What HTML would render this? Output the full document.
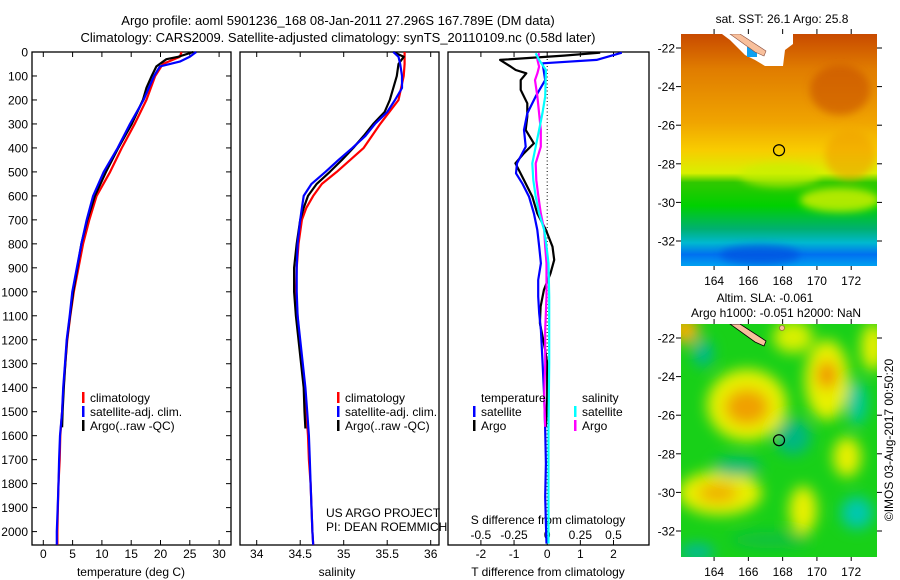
<!DOCTYPE html>
<html><head><meta charset="utf-8">
<style>
body{margin:0;background:#fff;}
svg{display:block;font-family:"Liberation Sans",sans-serif;}
text{font-size:12px;fill:#000;}
</style></head>
<body>
<svg id="fig" width="900" height="580" viewBox="0 0 900 580" xmlns="http://www.w3.org/2000/svg">
<rect width="900" height="580" fill="#fff"/>
<text x="338" y="25" text-anchor="middle" style="font-size:13px">Argo profile: aoml 5901236_168 08-Jan-2011 27.296S 167.789E (DM data)</text>
<text x="338" y="42" text-anchor="middle" style="font-size:13px">Climatology: CARS2009. Satellite-adjusted climatology: synTS_20110109.nc (0.58d later)</text>
<g id="panels"></g>
<g id="maps"></g>
</svg>
<script>
// ---------- DATA ----------
const depthTicks=[0,100,200,300,400,500,600,700,800,900,1000,1100,1200,1300,1400,1500,1600,1700,1800,1900,2000];
const tempTicks=[0,5,10,15,20,25,30];
const salTicks=[34,34.5,35,35.5,36];
const tdiffTicks=[-2,-1,0,1,2];
const sdiffTicks=[-0.5,-0.25,0,0.25,0.5];
const sdiffLabels=["-0.5","-0.25","0","0.25","0.5"];

const tempClimDepth=[0,20,50,100,200,300,400,500,600,700,800,900,1000,1100,1200,1300,1400,1500,1600,1700,1800,1900,2000,2055];
const tempClim=[23.6,23.3,20.4,19.1,17.6,15.6,13.4,11.4,9.1,7.85,6.8,6.0,5.2,4.6,4.1,3.75,3.45,3.2,2.9,2.8,2.6,2.5,2.4,2.4];
const tempSatDepth=[0,20,40,60,100,200,300,400,500,600,700,800,1000,1100,1200,1300,1400,1500,1600,1700,1800,1900,2000,2055];
const tempSat=[26.1,25.0,23.3,19.9,18.9,17.1,14.8,12.7,10.3,8.5,7.4,6.5,4.95,4.5,4.0,3.7,3.4,3.2,2.85,2.7,2.6,2.45,2.3,2.3];
const tempArgoDepth=[0,20,30,60,100,150,200,300,400,500,600,700,800,900,1000,1100,1200,1300,1400,1500,1565];
const tempArgo=[25.6,23.0,21.0,19.3,18.5,17.6,17.0,15.1,12.8,10.7,8.8,7.5,6.5,5.8,5.1,4.55,4.05,3.75,3.5,3.3,3.2];

const salClimDepth=[0,50,100,200,300,400,500,550,600,650,700,800,900,1000,1100,1200,1300,1400,1500,1600,1700,1800,1900,2000,2055];
const salClim=[35.7,35.7,35.69,35.63,35.42,35.23,34.92,34.75,34.65,34.57,34.52,34.48,34.46,34.45,34.47,34.49,34.52,34.55,34.57,34.59,34.6,34.62,34.63,34.64,34.65];
const salSatDepth=[0,20,50,100,150,200,250,300,350,400,450,500,550,600,650,700,800,900,1000,1100,1200,1300,1400,1500,1600,1700,1800,1900,2000,2055];
const salSat=[35.57,35.63,35.65,35.67,35.67,35.59,35.5,35.36,35.25,35.1,34.94,34.79,34.63,34.54,34.52,34.5,34.47,34.46,34.46,34.47,34.5,34.53,34.56,34.58,34.6,34.61,34.62,34.63,34.64,34.65];
const salArgoDepth=[0,20,50,100,150,200,250,300,350,400,450,500,550,600,650,700,800,900,1000,1100,1200,1300,1400,1500,1570];
const salArgo=[35.57,35.69,35.63,35.61,35.57,35.53,35.47,35.34,35.23,35.11,34.98,34.84,34.69,34.59,34.54,34.5,34.46,34.43,34.43,34.45,34.48,34.51,34.54,34.55,34.56];

const tdSatDepth=[3,33,47,117,186,256,325,395,464,506,548,603,673,742,812,881,951,1020,1090,1159,1298,1437,1576,1715,1855,1965,2050];
const tdSat=[2.25,1.49,-0.14,-0.06,-0.35,-0.6,-0.7,-0.65,-0.91,-0.94,-0.75,-0.55,-0.4,-0.3,-0.24,-0.19,-0.27,-0.27,-0.24,-0.19,-0.14,-0.09,-0.06,-0.04,-0.06,-0.04,-0.02];
const tdArgoDepth=[3,15,33,61,75,89,117,158,214,270,325,381,422,464,534,603,673,742,812,867,923,992,1062,1131,1187,1243,1298,1437,1563];
const tdArgo=[1.6,0.5,-1.42,-1.1,-0.95,-0.63,-0.8,-0.8,-0.6,-0.6,-0.65,-0.4,-0.7,-0.96,-0.7,-0.45,-0.3,-0.04,0.16,0.21,0.1,-0.1,-0.2,-0.22,-0.14,-0.06,0.0,0.0,-0.04];
const sdSatDepth=[5,33,75,186,256,325,395,464,534,603,673,742,812,881,1020,1298,1576,2050];
const sdSat=[-0.087,-0.061,-0.01,-0.015,-0.036,-0.061,-0.087,-0.112,-0.105,-0.087,-0.061,-0.023,-0.005,0.01,0.015,0.015,0.01,0.01];
const sdArgoDepth=[5,33,61,89,117,186,256,325,395,464,534,603,673,742,812,881,1020,1159,1298,1437,1563];
const sdArgo=[-0.061,-0.074,-0.061,-0.074,-0.092,-0.074,-0.061,-0.048,-0.048,-0.087,-0.082,-0.066,-0.048,-0.023,-0.015,-0.005,-0.005,-0.015,-0.015,-0.023,-0.015];

const lonTicks=[164,166,168,170,172];
const latTicks=[-22,-24,-26,-28,-30,-32];
const argoLon=167.789, argoLat=-27.296;

// ---------- HELPERS ----------
const NS="http://www.w3.org/2000/svg";
const P=document.getElementById('panels');
function el(tag,attrs,parent){const e=document.createElementNS(NS,tag);for(const k in attrs)e.setAttribute(k,attrs[k]);(parent||P).appendChild(e);return e;}
const top0=52,bot0=545;
const yD=d=>top0+d*0.2398;
function panelFrame(x0,x1,name){
  const r=el('rect',{x:x0,y:top0,width:x1-x0,height:bot0-top0,fill:'none',stroke:'#000','stroke-width':1.3});
  
  
}
function line(xs,ds,xf,color,name,w){
  const pts=xs.map((v,i)=>xf(v).toFixed(1)+','+yD(ds[i]).toFixed(1)).join(' ');
  const p=el('polyline',{points:pts,fill:'none',stroke:color,'stroke-width':w||2.2,'stroke-linejoin':'round'});
  
  
}
function txt(x,y,s,anchor,name,size,parent){
  const t=el('text',{x:x,y:y,'text-anchor':anchor||'start'},parent);
  if(size)t.style.fontSize=size+'px';
  t.textContent=s;
  
  
  return t;
}
function legendBar(x,y,color,name){
  const r=el('rect',{x:x,y:y-10,width:2.5,height:11,fill:color});
  
  
}

// ---------- PANEL 1: temperature ----------
const xT=v=>43.3+v*5.86;
panelFrame(32,231,'temperature-panel');
depthTicks.forEach(d=>{
  el('line',{x1:32,x2:37,y1:yD(d),y2:yD(d),stroke:'#000'});
  el('line',{x1:226,x2:231,y1:yD(d),y2:yD(d),stroke:'#000'});
  txt(28,yD(d)+4.5,String(d),'end','depth-tick-label');
});
tempTicks.forEach(v=>{
  el('line',{x1:xT(v),x2:xT(v),y1:top0,y2:top0+5,stroke:'#000'});
  el('line',{x1:xT(v),x2:xT(v),y1:bot0,y2:bot0-5,stroke:'#000'});
  txt(xT(v),558,String(v),'middle','temp-tick-label');
});
txt(131,576,'temperature (deg C)','middle','temperature-axis-title');
line(tempClim,tempClimDepth,xT,'#ff0000','temp-climatology-line');
line(tempArgo,tempArgoDepth,xT,'#000000','temp-argo-line');
line(tempSat,tempSatDepth,xT,'#0000ff','temp-satellite-line');
legendBar(82,402,'#ff0000','legend-climatology-swatch');txt(90,402,'climatology','start','legend-climatology');
legendBar(82,416,'#0000ff','legend-satellite-swatch');txt(90,416,'satellite-adj. clim.','start','legend-satellite');
legendBar(82,430,'#000','legend-argo-swatch');txt(90,430,'Argo(..raw -QC)','start','legend-argo');

// ---------- PANEL 2: salinity ----------
const xS=v=>256.7+(v-34)*87;
panelFrame(240,439,'salinity-panel');
salTicks.forEach(v=>{
  el('line',{x1:xS(v),x2:xS(v),y1:top0,y2:top0+5,stroke:'#000'});
  el('line',{x1:xS(v),x2:xS(v),y1:bot0,y2:bot0-5,stroke:'#000'});
  txt(xS(v),558,String(v),'middle','salinity-tick-label');
});
txt(337,576,'salinity','middle','salinity-axis-title');
line(salClim,salClimDepth,xS,'#ff0000','sal-climatology-line');
line(salArgo,salArgoDepth,xS,'#000000','sal-argo-line');
line(salSat,salSatDepth,xS,'#0000ff','sal-satellite-line');
legendBar(337,402,'#ff0000','legend2-climatology-swatch');txt(345,402,'climatology','start','legend2-climatology');
legendBar(337,416,'#0000ff','legend2-satellite-swatch');txt(345,416,'satellite-adj. clim.','start','legend2-satellite');
legendBar(337,430,'#000','legend2-argo-swatch');txt(345,430,'Argo(..raw -QC)','start','legend2-argo');
txt(326,517,'US ARGO PROJECT','start','project-label');
txt(326,531,'PI: DEAN ROEMMICH','start','pi-label');

// ---------- PANEL 3: differences ----------
const x0d=547.2, sc=33.15;
const xTD=v=>x0d+v*sc, xSD=v=>x0d+v*sc*4;
panelFrame(448,649,'difference-panel');
el('line',{x1:x0d,x2:x0d,y1:top0,y2:bot0,stroke:'#000','stroke-dasharray':'1,2.5','stroke-width':1});
tdiffTicks.forEach(v=>{
  el('line',{x1:xTD(v),x2:xTD(v),y1:top0,y2:top0+5,stroke:'#000'});
  el('line',{x1:xTD(v),x2:xTD(v),y1:bot0,y2:bot0-5,stroke:'#000'});
  txt(xTD(v),558,String(v),'middle','tdiff-tick-label');
});
sdiffTicks.forEach((v,i)=>{
  txt(xSD(v),539,sdiffLabels[i],'middle','sdiff-tick-label');
});
txt(548,524,'S difference from climatology','middle','sdiff-axis-title');
txt(548,576,'T difference from climatology','middle','tdiff-axis-title');
line(tdArgo,tdArgoDepth,xTD,'#000','tdiff-argo-line');
line(tdSat,tdSatDepth,xTD,'#0000ff','tdiff-satellite-line');
line(sdArgo,sdArgoDepth,xSD,'#ff00ff','sdiff-argo-line');
line(sdSat,sdSatDepth,xSD,'#00ffff','sdiff-satellite-line');
txt(481,402,'temperature','start','legend3-temperature-header');
legendBar(473,416,'#0000ff','legend3-tsat-swatch');txt(481,416,'satellite','start','legend3-tsat');
legendBar(473,430,'#000','legend3-targo-swatch');txt(481,430,'Argo','start','legend3-targo');
txt(582,402,'salinity','start','legend3-salinity-header');
legendBar(574,416,'#00ffff','legend3-ssat-swatch');txt(582,416,'satellite','start','legend3-ssat');
legendBar(574,430,'#ff00ff','legend3-sargo-swatch');txt(582,430,'Argo','start','legend3-sargo');

// ---------- MAPS ----------
const M=document.getElementById('maps');
function mapAxes(top,bottom,lat22y,lat32y,name){
  const lx=lon=>681+(lon-162.07)*17.14;
  const ly=lat=>lat22y+(-22-lat)*(lat32y-lat22y)/10;
  lonTicks.forEach(v=>{
    el('line',{x1:lx(v),x2:lx(v),y1:top-5,y2:top,stroke:'#000'},M);
    el('line',{x1:lx(v),x2:lx(v),y1:bottom,y2:bottom+4,stroke:'#000'},M);
    txt(lx(v),bottom+19,String(v),'middle','map-lon-label',null,M);
  });
  latTicks.forEach(v=>{
    el('line',{x1:676,x2:681,y1:ly(v),y2:ly(v),stroke:'#000'},M);
    el('line',{x1:877,x2:882,y1:ly(v),y2:ly(v),stroke:'#000'},M);
    txt(675,ly(v)+4.5,String(v),'end','map-lat-label',null,M);
  });
  const c=el('circle',{cx:lx(argoLon),cy:ly(argoLat),r:5.5,fill:'none',stroke:'#000','stroke-width':1.2},M);
  
  
}
M.insertAdjacentHTML('beforeend',`
<defs>
 <linearGradient id="sstg" x1="0" y1="0" x2="0" y2="1">
  <stop offset="0" stop-color="#c84a00"/><stop offset="0.15" stop-color="#e07c00"/>
  <stop offset="0.38" stop-color="#f0a400"/><stop offset="0.5" stop-color="#f8cc00"/>
  <stop offset="0.6" stop-color="#d8f000"/><stop offset="0.64" stop-color="#30c800"/>
  <stop offset="0.74" stop-color="#00d000"/><stop offset="0.84" stop-color="#00b070"/>
  <stop offset="0.9" stop-color="#00b8d0"/><stop offset="0.95" stop-color="#0070f0"/>
  <stop offset="1" stop-color="#00a0f0"/>
 </linearGradient>
 <filter id="bl" x="-50%" y="-50%" width="200%" height="200%"><feGaussianBlur stdDeviation="7"/></filter>
 <filter id="bl2" x="-50%" y="-50%" width="200%" height="200%"><feGaussianBlur stdDeviation="4"/></filter>
 <clipPath id="c1"><rect x="681" y="34" width="196" height="232"/></clipPath>
 <clipPath id="c2"><rect x="681" y="324" width="196" height="233"/></clipPath>
</defs>
<text x="782" y="23" text-anchor="middle">sat. SST: 26.1 Argo: 25.8</text>
<g clip-path="url(#c1)">
 <rect x="681" y="34" width="196" height="232" fill="url(#sstg)"/>
 <g filter="url(#bl2)">
  <ellipse cx="840" cy="90" rx="30" ry="25" fill="#c85000" opacity="0.6"/>
  <ellipse cx="850" cy="155" rx="25" ry="25" fill="#f0a000" opacity="0.6"/>
  <ellipse cx="840" cy="200" rx="40" ry="12" fill="#d8f000" opacity="0.8"/>
  <ellipse cx="780" cy="175" rx="40" ry="12" fill="#c8f000" opacity="0.7"/>
  <ellipse cx="760" cy="255" rx="40" ry="10" fill="#0050e0" opacity="0.7"/>
 </g>
 <path d="M722,34 L793,34 L793,44 L785,50 L783,66 L765,66 L755,60 L745,55 L730,40 Z" fill="#fff"/>
 <rect x="747" y="47" width="10" height="10" fill="#10a0f0"/>
 <path d="M730,34 L740,34 L766,51 L764,56 L755,52 Z" fill="#f8c09c" stroke="#8a5040" stroke-width="0.6"/>
</g>
<text x="765" y="302" text-anchor="middle">Altim. SLA: -0.061</text>
<text x="776" y="317" text-anchor="middle">Argo h1000: -0.051 h2000: NaN</text>
<g clip-path="url(#c2)">
 <rect x="681" y="324" width="196" height="233" fill="#18d018"/>
 <g filter="url(#bl)">
  <ellipse cx="747" cy="405" rx="40" ry="36" fill="#e8f000"/>
  <ellipse cx="747" cy="407" rx="22" ry="18" fill="#f0a000"/>
  <ellipse cx="827" cy="380" rx="22" ry="40" fill="#e8f000"/>
  <ellipse cx="827" cy="375" rx="10" ry="14" fill="#f09000"/>
  <ellipse cx="720" cy="493" rx="42" ry="22" fill="#e8f000"/>
  <ellipse cx="718" cy="493" rx="20" ry="10" fill="#f0b000"/>
  <ellipse cx="803" cy="510" rx="14" ry="24" fill="#e8f000"/>
  <ellipse cx="847" cy="457" rx="14" ry="20" fill="#e8f000"/>
  <ellipse cx="793" cy="337" rx="20" ry="16" fill="#d8f000"/>
  <ellipse cx="873" cy="347" rx="12" ry="24" fill="#e8f000"/>
  <ellipse cx="685" cy="330" rx="14" ry="14" fill="#f0b000"/>
  <ellipse cx="703" cy="353" rx="10" ry="14" fill="#00b890"/>
  <ellipse cx="857" cy="403" rx="10" ry="22" fill="#00c8a0"/>
  <ellipse cx="857" cy="513" rx="16" ry="16" fill="#00c8b0"/>
  <ellipse cx="793" cy="437" rx="18" ry="18" fill="#00b880"/>
  <ellipse cx="737" cy="467" rx="24" ry="9" fill="#00b880"/>
  <ellipse cx="697" cy="552" rx="18" ry="8" fill="#00b8a0"/>
  <ellipse cx="770" cy="540" rx="40" ry="8" fill="#10c040"/>
 </g>
 <path d="M730,324 L740,324 L766,341 L764,346 L755,342 Z" fill="#f8c09c" stroke="#000" stroke-width="0.8"/>
 <circle cx="782" cy="328" r="2.5" fill="#f8c09c" stroke="#8a5040" stroke-width="0.6"/>
</g>
<text transform="translate(893,440) rotate(-90)" text-anchor="middle">©IMOS 03-Aug-2017 00:50:20</text>
`);
mapAxes(34,266,48,241,'sst-map');
mapAxes(324,557,338,531,'sla-map');
</script>
</body></html>
